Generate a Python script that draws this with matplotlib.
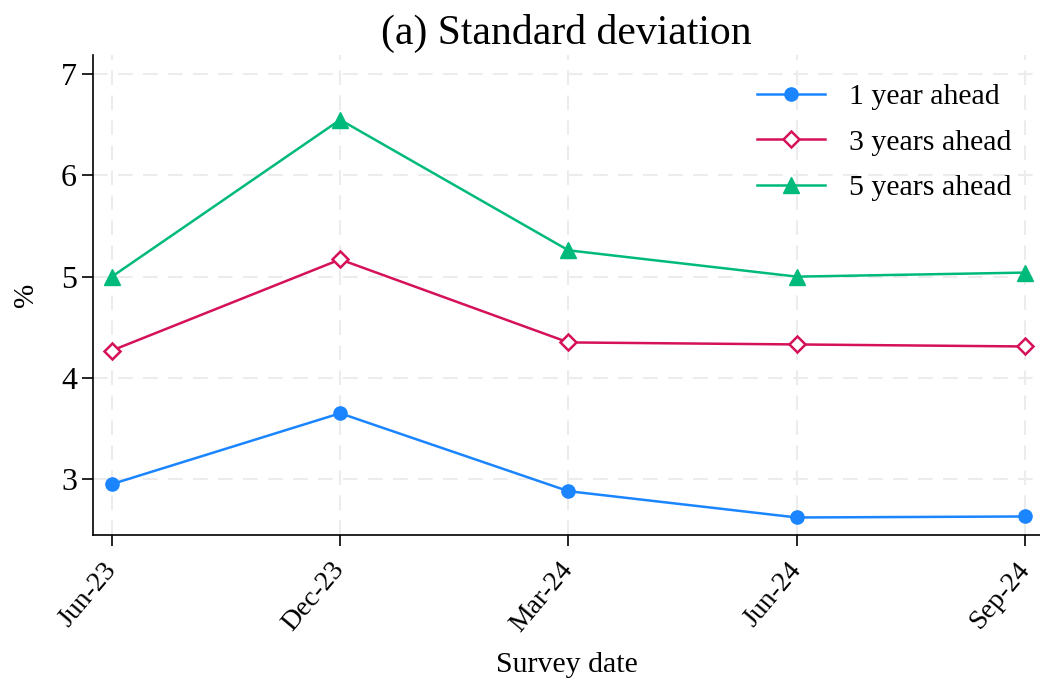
import numpy as np
import matplotlib
matplotlib.use("Agg")
import matplotlib.pyplot as plt

plt.rcParams['font.family'] = ['Liberation Serif', 'DejaVu Serif']

dates = ["Jun-23", "Dec-23", "Mar-24", "Jun-24", "Sep-24"]
one_year = [2.95, 3.65, 2.88, 2.62, 2.63]
three_years = [4.27, 5.17, 4.35, 4.33, 4.31]
five_years = [5.00, 6.55, 5.26, 5.00, 5.04]

blue = "#1a85ff"
red = "#d41159"
green = "#00ba7c"

fig = plt.figure(figsize=(10.4, 6.81), dpi=100)
ax = fig.add_axes([0.0894, 0.2144, 0.9106, 0.7048])

x = np.arange(len(dates))
ax.plot(x, one_year, color=blue, lw=1.8, marker="o", ms=9.5, label="1 year ahead")
ax.plot(x, three_years, color=red, lw=1.8, marker="D", ms=8.5, mfc="white",
        mec=red, mew=1.8, label="3 years ahead")
ax.plot(x, five_years, color=green, lw=1.8, marker="^", ms=12, label="5 years ahead")

ax.set_xlim(-0.083, 4.066)
ax.set_ylim(2.447, 7.19)
ax.set_xticks(x)
ax.set_xticklabels(dates, rotation=50, ha="right", va="center",
                   rotation_mode="anchor", fontsize=20)
ax.set_yticks([3, 4, 5, 6, 7])
ax.tick_params(axis="both", direction="out", length=8, width=1.2, labelsize=23)
ax.tick_params(axis="x", labelsize=20, pad=14)

ax.grid(True, color="#ececec", ls=(0, (7, 5)), lw=1.5)
ax.set_axisbelow(True)
for s in ["top", "right"]:
    ax.spines[s].set_visible(False)
for s in ["left", "bottom"]:
    ax.spines[s].set_linewidth(1.2)

ax.set_title("(a) Standard deviation", fontsize=30, pad=8)
ax.set_xlabel("Survey date", fontsize=21.5, labelpad=11)
ax.set_ylabel("%", fontsize=21, labelpad=16)

ax.legend(loc="upper right", frameon=False, fontsize=21.5, handlelength=2.3,
          handletextpad=0.8, borderaxespad=0.55, labelspacing=0.62)

fig.savefig("out.png", dpi=100)
